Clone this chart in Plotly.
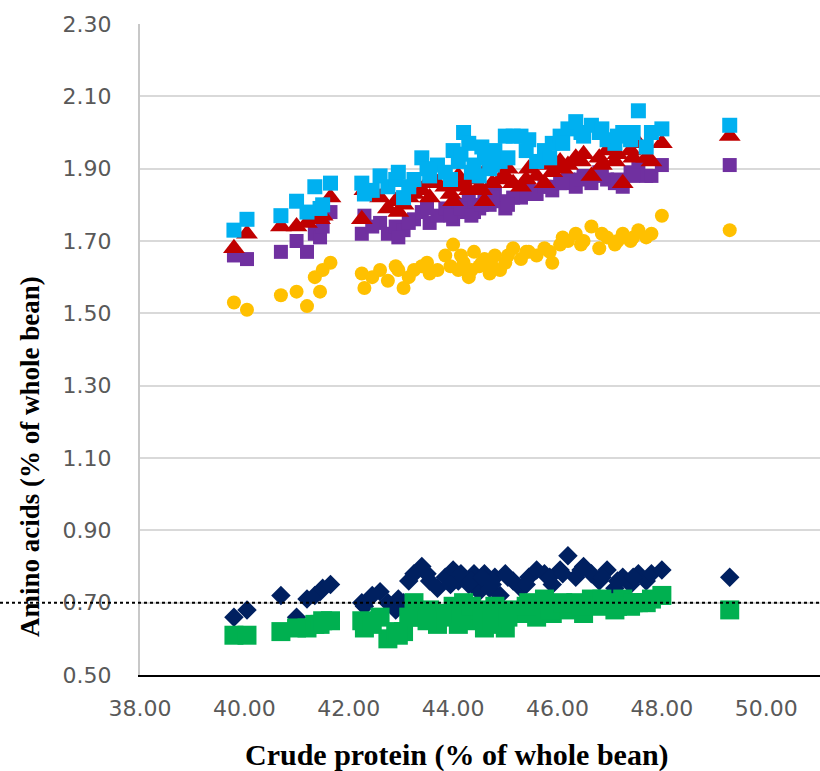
import plotly.graph_objects as go

# Crude protein (% of whole bean) for each sample
crude_protein = [39.80, 40.05, 40.70, 41.00, 41.20, 41.35, 41.45, 41.50, 41.65,
                 42.25, 42.30, 42.60, 42.75, 42.90, 43.05, 43.25, 43.40, 43.55, 43.70, 43.85,
                 44.00, 44.10, 44.20, 44.30, 44.40, 44.50, 44.60, 44.70, 44.80, 44.90,
                 45.00, 45.15, 45.30, 45.45, 45.60, 45.75, 45.90, 46.05, 46.20, 46.35,
                 46.50, 46.65, 46.80, 46.95, 47.10, 47.25, 47.40, 47.55, 47.70, 47.80,
                 48.00, 49.30,
                 42.45, 42.95, 43.15, 43.50, 43.95, 44.15, 44.35, 44.55, 44.75,
                 45.05, 45.40, 45.85, 46.10, 46.45, 46.85, 47.15, 47.45]

light_blue = [1.73, 1.76, 1.77, 1.81, 1.78, 1.85, 1.79, 1.80, 1.86,
              1.86, 1.83, 1.88, 1.85, 1.87, 1.82, 1.87, 1.93, 1.88, 1.91, 1.89,
              1.95, 1.92, 2.00, 1.97, 1.91, 1.88, 1.93, 1.90, 1.95, 1.92,
              1.99, 1.99, 1.99, 1.98, 1.92, 1.95, 1.97, 1.99, 2.01, 2.03,
              1.99, 2.02, 2.00, 1.98, 1.97, 2.00, 1.98, 2.06, 1.96, 2.00,
              2.01, 2.02,
              1.84, 1.89, 1.85, 1.90, 1.87, 1.94, 1.89, 1.96, 1.91,
              1.93, 1.95, 1.93, 1.97, 2.00, 2.01, 1.99, 2.00]

red = [1.68, 1.72, 1.74, 1.74, 1.75, 1.76, 1.76, 1.77, 1.82,
       1.76, 1.84, 1.82, 1.79, 1.81, 1.80, 1.83, 1.84, 1.82, 1.86, 1.85,
       1.81, 1.88, 1.86, 1.84, 1.89, 1.85, 1.81, 1.91, 1.93, 1.87,
       1.88, 1.86, 1.85, 1.90, 1.88, 1.86, 1.89, 1.92, 1.91, 1.93,
       1.94, 1.88, 1.93, 1.95, 1.92, 1.86, 1.95, 1.97, 1.93, 1.92,
       1.97, 1.99,
       1.83, 1.78, 1.82, 1.86, 1.83, 1.85, 1.87, 1.84, 1.86,
       1.90, 1.87, 1.91, 1.90, 1.92, 1.91, 1.94, 1.93]

purple = [1.66, 1.65, 1.67, 1.70, 1.67, 1.72, 1.71, 1.74, 1.78,
          1.72, 1.77, 1.75, 1.72, 1.74, 1.73, 1.76, 1.78, 1.75, 1.77, 1.79,
          1.76, 1.80, 1.78, 1.81, 1.78, 1.79, 1.82, 1.80, 1.83, 1.81,
          1.79, 1.82, 1.82, 1.84, 1.83, 1.85, 1.84, 1.86, 1.87, 1.85,
          1.88, 1.86, 1.89, 1.87, 1.86, 1.85, 1.89, 1.90, 1.88, 1.88,
          1.91, 1.91,
          1.74, 1.71, 1.75, 1.79, 1.77, 1.79, 1.77, 1.80, 1.82,
          1.80, 1.83, 1.85, 1.86, 1.87, 1.88, 1.87, 1.88]

orange = [1.53, 1.51, 1.55, 1.56, 1.52, 1.60, 1.56, 1.62, 1.64,
          1.61, 1.57, 1.62, 1.59, 1.63, 1.57, 1.62, 1.63, 1.61, 1.62, 1.66,
          1.69, 1.62, 1.64, 1.60, 1.67, 1.63, 1.65, 1.61, 1.66, 1.62,
          1.64, 1.68, 1.65, 1.67, 1.66, 1.68, 1.64, 1.69, 1.70, 1.72,
          1.70, 1.74, 1.68, 1.71, 1.69, 1.72, 1.70, 1.73, 1.71, 1.72,
          1.77, 1.73,
          1.60, 1.62, 1.60, 1.64, 1.63, 1.66, 1.62, 1.64, 1.63,
          1.66, 1.67, 1.67, 1.71, 1.69, 1.72, 1.70, 1.71]

navy = [0.66, 0.68, 0.72, 0.66, 0.71, 0.72, 0.73, 0.74, 0.75,
        0.70, 0.69, 0.73, 0.70, 0.68, 0.70, 0.78, 0.80, 0.76, 0.74, 0.77,
        0.79, 0.76, 0.77, 0.75, 0.78, 0.73, 0.78, 0.74, 0.77, 0.72,
        0.78, 0.76, 0.74, 0.77, 0.79, 0.78, 0.75, 0.79, 0.83, 0.77,
        0.80, 0.78, 0.76, 0.79, 0.74, 0.77, 0.75, 0.78, 0.76, 0.78,
        0.79, 0.77,
        0.72, 0.71, 0.76, 0.78, 0.75, 0.78, 0.76, 0.77, 0.75,
        0.77, 0.75, 0.77, 0.78, 0.79, 0.77, 0.76, 0.77]

green = [0.61, 0.61, 0.62, 0.63, 0.63, 0.64, 0.64, 0.65, 0.65,
         0.65, 0.63, 0.66, 0.60, 0.62, 0.62, 0.70, 0.66, 0.68, 0.64, 0.67,
         0.69, 0.64, 0.70, 0.66, 0.65, 0.68, 0.63, 0.67, 0.69, 0.64,
         0.63, 0.68, 0.67, 0.70, 0.66, 0.71, 0.67, 0.69, 0.68, 0.70,
         0.67, 0.71, 0.69, 0.70, 0.68, 0.71, 0.69, 0.70, 0.70, 0.71,
         0.72, 0.68,
         0.64, 0.61, 0.66, 0.65, 0.66, 0.67, 0.69, 0.66, 0.65,
         0.66, 0.69, 0.68, 0.70, 0.69, 0.71, 0.69, 0.70]

reference_level = 0.70
y_ticks = [0.50, 0.70, 0.90, 1.10, 1.30, 1.50, 1.70, 1.90, 2.10, 2.30]
x_ticks = [38, 40, 42, 44, 46, 48, 50]
x_title = "Crude protein (% of whole bean)"
y_title = "Amino acids (% of whole bean)"

series = [
    (orange, "#FFC000", "circle", 14),
    (purple, "#7030A0", "square", 14),
    (red, "#C00000", "triangle-up", 19),
    (light_blue, "#00B0F0", "square", 15),
    (navy, "#002060", "diamond", 15),
    (green, "#00B050", "square", 19),
]

fig = go.Figure()
for vals, color, sym, size in series:
    fig.add_trace(go.Scatter(
        x=crude_protein, y=vals, mode="markers",
        marker=dict(color=color, symbol=sym, size=size, line=dict(width=0)),
        showlegend=False, cliponaxis=False,
    ))

fig.add_shape(type="line", xref="paper", yref="y",
              x0=-140 / 680, x1=1, y0=reference_level, y1=reference_level,
              line=dict(color="#000000", width=2, dash="dot"), layer="above")

tick_font = dict(family="DejaVu Sans", size=22, color="#595959")
title_font = dict(family="Liberation Serif", color="#000000")

fig.update_layout(
    width=820, height=771,
    margin=dict(l=140, r=0, t=24, b=96),
    paper_bgcolor="white", plot_bgcolor="white",
    xaxis=dict(range=[38, 51.03], tickvals=x_ticks,
               ticktext=[f"{v:.2f}" for v in x_ticks],
               showgrid=False, zeroline=False, showline=True,
               linecolor="#000000", linewidth=2, ticks="",
               tickfont=tick_font, ticklabelstandoff=13),
    yaxis=dict(range=[0.5, 2.3], tickvals=y_ticks,
               ticktext=[f"{v:.2f}" for v in y_ticks],
               showgrid=True, gridcolor="#D9D9D9", gridwidth=2,
               zeroline=False, showline=True, linecolor="#C8C8C8",
               linewidth=2, ticks="", tickfont=tick_font,
               ticklabelstandoff=22),
    annotations=[
        dict(text=f"<b>{x_title}</b>", xref="paper", yref="paper",
             x=(457 - 140) / 680, y=-(755 - 675) / 651, xanchor="center",
             yanchor="middle", showarrow=False,
             font=dict(size=30, **title_font)),
        dict(text=f"<b>{y_title}</b>", xref="paper", yref="paper",
             x=-(140 - 30) / 680, y=(675 - 457) / 651, xanchor="center",
             yanchor="middle", textangle=-90, showarrow=False,
             font=dict(size=27, **title_font)),
    ],
)

fig.write_html("out.html")
